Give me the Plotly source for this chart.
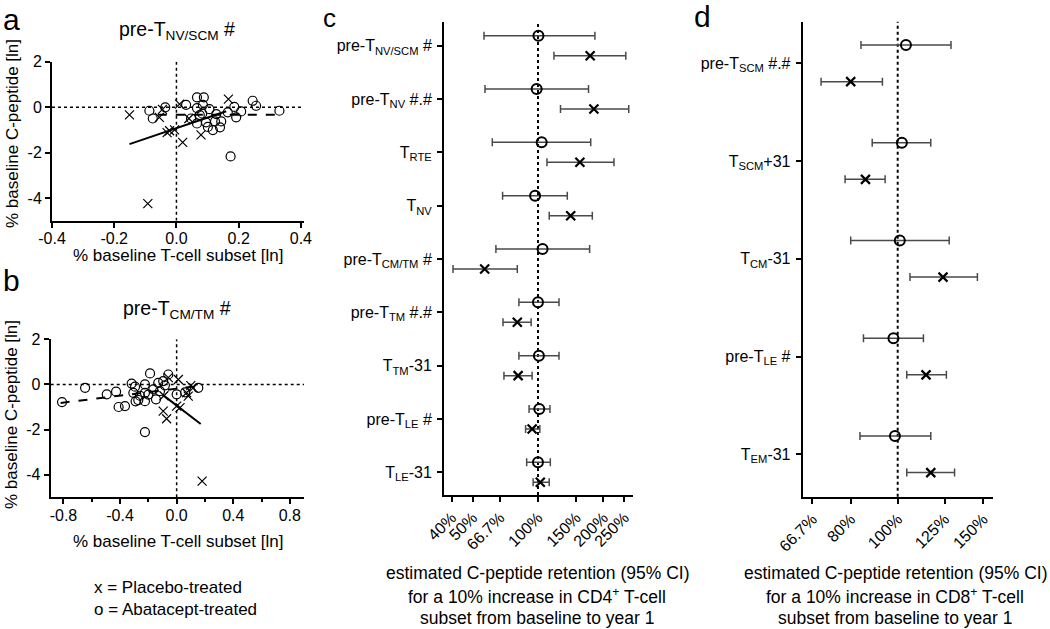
import plotly.graph_objects as go

W, H = 1050, 629
FONT = "Liberation Sans, Arial, sans-serif"


def px(x):
    return x / W


def py(y):
    return 1 - y / H


# ---------------- Panel a: pre-T NV/SCM scatter ----------------
a_abat_x = [-0.087, -0.076, -0.036, 0.031, 0.066, 0.088, 0.066, 0.085, 0.106, 0.083,
            0.066, 0.095, 0.101, 0.117, 0.124, 0.140, 0.144, 0.128, 0.165, 0.186,
            0.208, 0.192, 0.245, 0.256, 0.331, 0.174, 0.047, 0.075]
a_abat_y = [-0.16, -0.50, -0.01, 0.10, 0.43, 0.43, -0.04, 0.10, -0.09, -0.28,
            -0.72, -0.67, -0.87, -1.01, -0.63, -0.89, -0.63, -0.31, -0.23, 0.01,
            -0.19, -0.45, 0.28, 0.06, -0.16, -2.17, -0.50, -0.35]
a_plac_x = [-0.151, -0.055, -0.045, 0.010, 0.040, 0.167, -0.022, -0.006, 0.020, 0.079, -0.092, -0.030]
a_plac_y = [-0.34, -0.45, -0.10, 0.13, -0.50, 0.35, -1.04, -1.00, -1.55, -1.22, -4.25, -1.12]
a_fit_plac_x = [-0.151, 0.160]
a_fit_plac_y = [-1.63, -0.18]
a_fit_abat_x = [-0.060, 0.326]
a_fit_abat_y = [-0.34, -0.34]

# ---------------- Panel b: pre-T CM/TM scatter ----------------
b_abat_x = [-0.810, -0.647, -0.494, -0.428, -0.410, -0.365, -0.318, -0.294, -0.306, -0.271,
            -0.224, -0.224, -0.224, -0.188, -0.165, -0.146, -0.130, -0.095, -0.059, -0.083,
            0.000, 0.153, -0.224, -0.118, -0.260, -0.290, -0.200, 0.060]
b_abat_y = [-0.78, -0.15, -0.44, -0.32, -1.00, -0.96, 0.04, -0.10, -0.37, -0.69,
            0.00, -0.37, -0.74, 0.49, -0.22, -0.66, 0.07, 0.15, 0.44, -0.04,
            -0.44, -0.15, -2.11, -0.30, -0.50, -0.75, -0.45, -0.35]
b_plac_x = [-0.095, -0.071, -0.059, 0.012, 0.000, 0.024, 0.070, 0.082, 0.117, 0.180, -0.090, 0.100]
b_plac_y = [-1.18, -1.52, 0.30, 0.22, -0.96, -1.03, -0.37, -0.52, -0.15, -4.28, -0.50, -0.05]
b_fit_plac_x = [-0.100, 0.170]
b_fit_plac_y = [-0.45, -1.75]
b_fit_abat_x = [-0.820, 0.150]
b_fit_abat_y = [-0.82, -0.07]

# ---------------- Panel c: CD4+ subsets (retention %, 95% CI) ----------------
c_labels = ["pre-T<sub>NV/SCM</sub> #", "pre-T<sub>NV</sub> #.#", "T<sub>RTE</sub>",
            "T<sub>NV</sub>", "pre-T<sub>CM/TM</sub> #", "pre-T<sub>TM</sub> #.#",
            "T<sub>TM</sub>-31", "pre-T<sub>LE</sub> #", "T<sub>LE</sub>-31"]
c_abat_est = [100.5, 98.6, 104.0, 97.0, 105.0, 100.0, 101.0, 101.4, 100.0]
c_abat_lo = [56.4, 57.0, 61.6, 68.7, 64.0, 81.7, 81.7, 91.0, 88.7]
c_abat_hi = [183.0, 171.0, 175.0, 136.5, 173.0, 125.0, 125.0, 113.6, 114.0]
c_plac_est = [174.0, 181.0, 156.0, 141.5, 56.8, 80.3, 81.0, 94.0, 102.5]
c_plac_lo = [118.5, 127.0, 110.0, 112.7, 40.6, 69.0, 69.7, 87.7, 95.0]
c_plac_hi = [254.0, 262.0, 224.0, 178.0, 80.3, 93.0, 94.0, 102.0, 112.7]
c_ticks = [40, 50, 66.7, 100, 150, 200, 250]
c_ticktext = ["40%", "50%", "66.7%", "100%", "150%", "200%", "250%"]

# ---------------- Panel d: CD8+ subsets ----------------
d_labels = ["pre-T<sub>SCM</sub> #.#", "T<sub>SCM</sub>+31", "T<sub>CM</sub>-31",
            "pre-T<sub>LE</sub> #", "T<sub>EM</sub>-31"]
d_abat_est = [104.0, 102.0, 101.0, 98.0, 98.7]
d_abat_lo = [84.0, 88.6, 80.0, 85.0, 83.6]
d_abat_hi = [128.8, 117.0, 127.7, 113.0, 117.0]
d_plac_est = [80.0, 85.8, 124.0, 114.4, 117.0]
d_plac_lo = [69.5, 77.9, 106.0, 104.4, 104.4]
d_plac_hi = [93.0, 94.2, 146.0, 126.0, 131.0]
d_ticks = [66.7, 80, 100, 125, 150]
d_ticktext = ["66.7%", "80%", "100%", "125%", "150%"]

OFFSET = 0.1875  # vertical separation of the two treatment groups within a row

fig = go.Figure()

circ = dict(symbol="circle-open", size=9, color="black", line=dict(width=1.2, color="black"))
cross = dict(symbol="x-thin-open", size=9, color="black", line=dict(width=1.2, color="black"))

# Panel a
fig.add_trace(go.Scatter(x=a_abat_x, y=a_abat_y, mode="markers", marker=circ, xaxis="x", yaxis="y"))
fig.add_trace(go.Scatter(x=a_plac_x, y=a_plac_y, mode="markers", marker=cross, xaxis="x", yaxis="y"))
fig.add_trace(go.Scatter(x=a_fit_plac_x, y=a_fit_plac_y, mode="lines",
                         line=dict(color="black", width=2), xaxis="x", yaxis="y"))
fig.add_trace(go.Scatter(x=a_fit_abat_x, y=a_fit_abat_y, mode="lines",
                         line=dict(color="black", width=2, dash="dash"), xaxis="x", yaxis="y"))
# Panel b
fig.add_trace(go.Scatter(x=b_abat_x, y=b_abat_y, mode="markers", marker=circ, xaxis="x2", yaxis="y2"))
fig.add_trace(go.Scatter(x=b_plac_x, y=b_plac_y, mode="markers", marker=cross, xaxis="x2", yaxis="y2"))
fig.add_trace(go.Scatter(x=b_fit_plac_x, y=b_fit_plac_y, mode="lines",
                         line=dict(color="black", width=2), xaxis="x2", yaxis="y2"))
fig.add_trace(go.Scatter(x=b_fit_abat_x, y=b_fit_abat_y, mode="lines",
                         line=dict(color="black", width=2, dash="dash"), xaxis="x2", yaxis="y2"))


def forest(est, lo, hi, n, shift, marker, xa, ya):
    rows = [i + shift for i in range(n)]
    fig.add_trace(go.Scatter(
        x=est, y=rows, mode="markers", marker=marker, xaxis=xa, yaxis=ya,
        error_x=dict(type="data", symmetric=False,
                     array=[h - e for h, e in zip(hi, est)],
                     arrayminus=[e - l for e, l in zip(est, lo)],
                     color="#4a4a4a", thickness=1.5, width=4)))


big_circ = dict(symbol="circle-open", size=10, color="black", line=dict(width=2, color="black"))
big_cross = dict(symbol="x-thin-open", size=9, color="black", line=dict(width=2.2, color="black"))

forest(c_abat_est, c_abat_lo, c_abat_hi, len(c_labels), -OFFSET, big_circ, "x3", "y3")
forest(c_plac_est, c_plac_lo, c_plac_hi, len(c_labels), OFFSET, big_cross, "x3", "y3")
forest(d_abat_est, d_abat_lo, d_abat_hi, len(d_labels), -OFFSET, big_circ, "x4", "y4")
forest(d_plac_est, d_plac_lo, d_plac_hi, len(d_labels), OFFSET, big_cross, "x4", "y4")

axis_common = dict(showline=True, linecolor="black", linewidth=2, ticks="outside", ticklen=5,
                   tickwidth=1.5, tickcolor="black", showgrid=False, zeroline=False,
                   automargin=False,
                   tickfont=dict(family=FONT, size=16, color="black"))

fig.update_layout(
    width=W, height=H, margin=dict(l=0, r=0, t=0, b=0, pad=0, autoexpand=False),
    paper_bgcolor="white", plot_bgcolor="white", showlegend=False,
    font=dict(family=FONT, size=16, color="black"),
    xaxis=dict(domain=[px(52), px(304)], range=[-0.4, 0.41], anchor="y",
               tickvals=[-0.4, -0.2, 0, 0.2, 0.4], ticktext=["-0.4", "-0.2", "0.0", "0.2", "0.4"],
               ticklabelstandoff=-3, **axis_common),
    yaxis=dict(domain=[py(220.7), py(61.7)], range=[-5, 2], anchor="x",
               tickvals=[2, 0, -2, -4], ticktext=["2", "0", "-2", "-4"], **axis_common),
    xaxis2=dict(domain=[px(50.7), px(304)], range=[-0.89, 0.9], anchor="y2",
                tickvals=[-0.8, -0.4, 0, 0.4, 0.8], ticktext=["-0.8", "-0.4", "0.0", "0.4", "0.8"],
                minor=dict(tickvals=[-0.6, -0.2, 0.2, 0.6], ticks="outside", ticklen=3,
                           tickcolor="black", tickwidth=1.5),
                ticklabelstandoff=-3, **axis_common),
    yaxis2=dict(domain=[py(497.3), py(339.3)], range=[-5, 2], anchor="x2",
                tickvals=[2, 0, -2, -4], ticktext=["2", "0", "-2", "-4"], **axis_common),
    xaxis3=dict(domain=[px(444), px(633.3)], type="log", range=[1.567, 2.4393], anchor="y3",
                tickvals=c_ticks, ticktext=c_ticktext, tickangle=-45, **axis_common),
    yaxis3=dict(domain=[py(495), py(21.7)], range=[8.426, -0.45], anchor="x3",
                tickvals=list(range(len(c_labels))), ticktext=c_labels, ticklabelstandoff=2,
                **axis_common),
    xaxis4=dict(domain=[px(802.7), px(992.7)], type="log", range=[1.8041, 2.1959], anchor="y4",
                tickvals=d_ticks, ticktext=d_ticktext, tickangle=-45, **axis_common),
    yaxis4=dict(domain=[py(496.7), py(21.7)], range=[4.434, -0.4256], anchor="x4",
                tickvals=list(range(len(d_labels))), ticktext=d_labels, ticklabelstandoff=2,
                **axis_common),
)

dot = dict(color="black", width=1.5, dash="dot")
shapes = [
    dict(type="line", xref="x", yref="y", x0=0, x1=0, y0=-5, y1=2, line=dot, layer="below"),
    dict(type="line", xref="x", yref="y", x0=-0.4, x1=0.41, y0=0, y1=0, line=dot, layer="below"),
    dict(type="line", xref="x2", yref="y2", x0=0, x1=0, y0=-5, y1=2, line=dot, layer="below"),
    dict(type="line", xref="x2", yref="y2", x0=-0.89, x1=0.9, y0=0, y1=0, line=dot, layer="below"),
    dict(type="line", xref="x3", yref="y3 domain", x0=100, x1=100, y0=0, y1=1,
         line=dict(color="black", width=2, dash="dot"), layer="below"),
    dict(type="line", xref="x4", yref="y4 domain", x0=100, x1=100, y0=0, y1=1,
         line=dict(color="black", width=2, dash="dot"), layer="below"),
]
fig.update_layout(shapes=shapes)


def ann(text, x, y, size=16, angle=0, xanchor="center", yanchor="middle"):
    fig.add_annotation(text=text, x=px(x), y=py(y), xref="paper", yref="paper",
                       showarrow=False, textangle=angle, xanchor=xanchor, yanchor=yanchor,
                       font=dict(family=FONT, size=size, color="black"))


# panel letters
ann("a", 11, 20, size=30)
ann("b", 11, 281, size=30)
ann("c", 329, 18, size=26)
ann("d", 702, 17, size=30)

# titles for scatter panels
ann("pre-T<sub>NV/SCM</sub> #", 177, 31, size=19.5)
ann("pre-T<sub>CM/TM</sub> #", 177, 309, size=19.5)

# axis titles for scatter panels
ann("% baseline C-peptide [ln]", 12, 134, size=17, angle=-90)
ann("% baseline T-cell subset [ln]", 178, 256, size=17)
ann("% baseline C-peptide [ln]", 12, 415, size=17, angle=-90)
ann("% baseline T-cell subset [ln]", 178, 541, size=17)

# symbol key
ann("x = Placebo-treated", 92, 587, size=17, xanchor="left")
ann("o = Abatacept-treated", 92, 609, size=17, xanchor="left")

# forest plot x titles
for cx, cd in [(537, "4"), (895, "8")]:
    ann("estimated C-peptide retention (95% CI)", cx, 573, size=17.5)
    ann("for a 10% increase in CD" + cd + "<sup>+</sup> T-cell", cx, 596, size=17.5)
    ann("subset from baseline to year 1", cx, 618, size=17.5)

fig.write_html("out.html", config={"displayModeBar": False},
               post_script="document.body.style.margin='0px';")
